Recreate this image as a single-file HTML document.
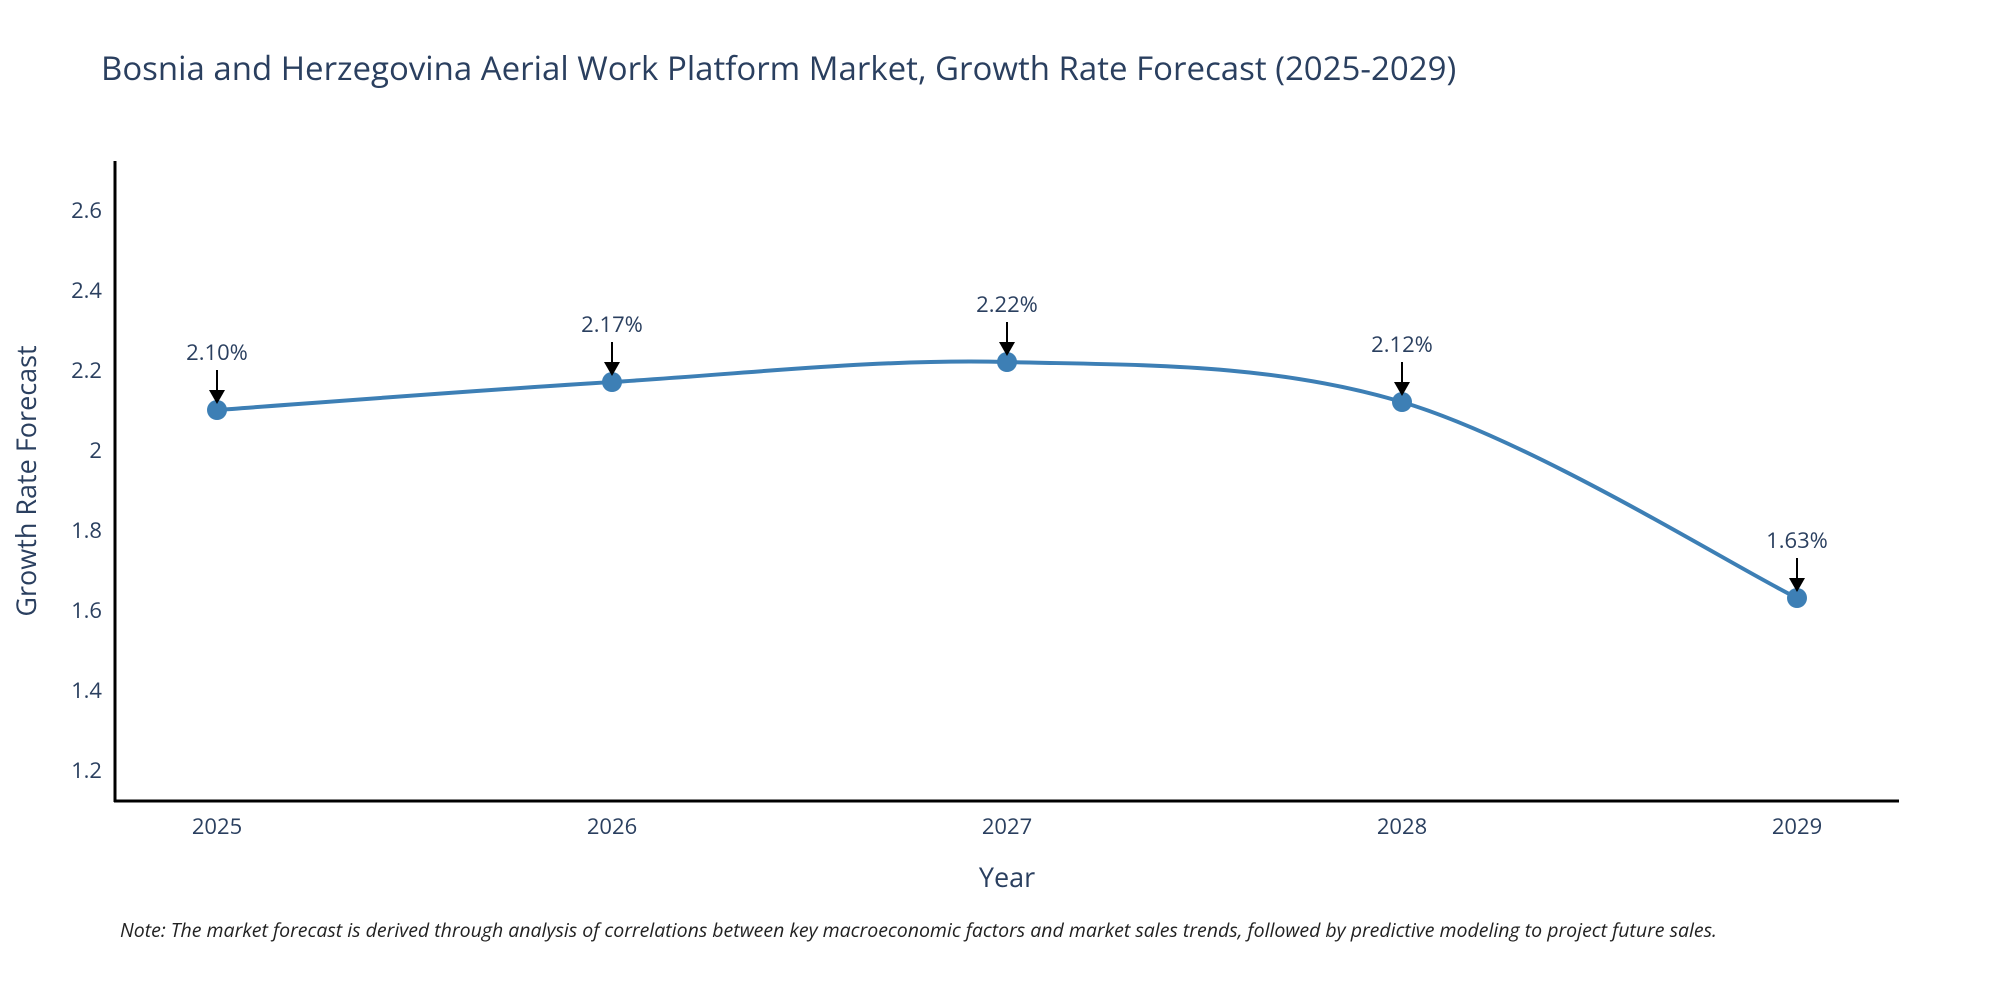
<!DOCTYPE html>
<html><head><meta charset="utf-8"><style>
body{margin:0;background:#fff;}
svg{display:block;font-family:"Open Sans","Liberation Sans",sans-serif;}
</style></head><body>
<svg id="chart" width="2000" height="1000">
<text x="101" y="80" font-size="33" fill="#2a3f5f">Bosnia and Herzegovina Aerial Work Platform Market, Growth Rate Forecast (2025-2029)</text>
<g id="yticks"></g>
<g id="xticks"></g>
<line x1="115" y1="161" x2="115" y2="802" stroke="#000" stroke-width="3"/>
<line x1="114" y1="801" x2="1899" y2="801" stroke="#000" stroke-width="3"/>
<text transform="translate(36,481) rotate(-90)" text-anchor="middle" font-size="27" fill="#2a3f5f">Growth Rate Forecast</text>
<text x="1007" y="887" text-anchor="middle" font-size="27" fill="#2a3f5f">Year</text>
<g id="series"></g>
<text x="120" y="937" font-size="19.5" font-style="italic" fill="#222">Note: The market forecast is derived through analysis of correlations between key macroeconomic factors and market sales trends, followed by predictive modeling to project future sales.</text>
</svg>
<script>
const categories = ["2025","2026","2027","2028","2029"];
const values = [2.10, 2.17, 2.22, 2.12, 1.63];
const valueLabels = ["2.10%","2.17%","2.22%","2.12%","1.63%"];
const yTickValues = [1.2,1.4,1.6,1.8,2.0,2.2,2.4,2.6];
const yTickLabels = ["1.2","1.4","1.6","1.8","2","2.2","2.4","2.6"];

const NS="http://www.w3.org/2000/svg";
function xScale(i){return 217 + i*395;}
function yScale(v){return 770 - (v-1.2)*400;}
function mk(tag,attrs,parent){const e=document.createElementNS(NS,tag);for(const k in attrs)e.setAttribute(k,attrs[k]);parent.appendChild(e);return e;}

const yt=document.getElementById('yticks');
yTickValues.forEach((v,i)=>{
  const t=mk('text',{x:102,y:yScale(v)+8,'text-anchor':'end','font-size':22,fill:'#2a3f5f'},yt);
  
  
  t.textContent=yTickLabels[i];
});
const xt=document.getElementById('xticks');
categories.forEach((c,i)=>{
  const t=mk('text',{x:xScale(i),y:834,'text-anchor':'middle','font-size':22,fill:'#2a3f5f'},xt);
  
  
  t.textContent=c;
});

const g=document.getElementById('series');
const pts=values.map((v,i)=>[xScale(i),yScale(v)]);
let d=`M${pts[0][0]},${pts[0][1]}`;
const s=0.5/3*2;
for(let i=0;i<pts.length-1;i++){
  const p0=pts[Math.max(0,i-1)],p1=pts[i],p2=pts[i+1],p3=pts[Math.min(pts.length-1,i+2)];
  const c1=[p1[0]+(p2[0]-p0[0])*s/2,p1[1]+(p2[1]-p0[1])*s/2];
  const c2=[p2[0]-(p3[0]-p1[0])*s/2,p2[1]-(p3[1]-p1[1])*s/2];
  d+=` C${c1[0]},${c1[1]} ${c2[0]},${c2[1]} ${p2[0]},${p2[1]}`;
}
const line=mk('path',{d:d,fill:'none',stroke:'#3d7fb5','stroke-width':4},g);


pts.forEach((p,i)=>{
  const c=mk('circle',{cx:p[0],cy:p[1],r:10,fill:'#3d7fb5'},g);
  
  
  const a=mk('line',{x1:p[0],y1:p[1]-40,x2:p[0],y2:p[1]-18,stroke:'#000','stroke-width':2},g);
  
  
  const h=mk('polygon',{points:`${p[0]-8},${p[1]-20} ${p[0]+8},${p[1]-20} ${p[0]},${p[1]-6}`,fill:'#000'},g);
  
  
  const t=mk('text',{x:p[0],y:p[1]-50,'text-anchor':'middle','font-size':22,fill:'#2a3f5f'},g);
  
  
  t.textContent=valueLabels[i];
});
</script>
</body></html>
